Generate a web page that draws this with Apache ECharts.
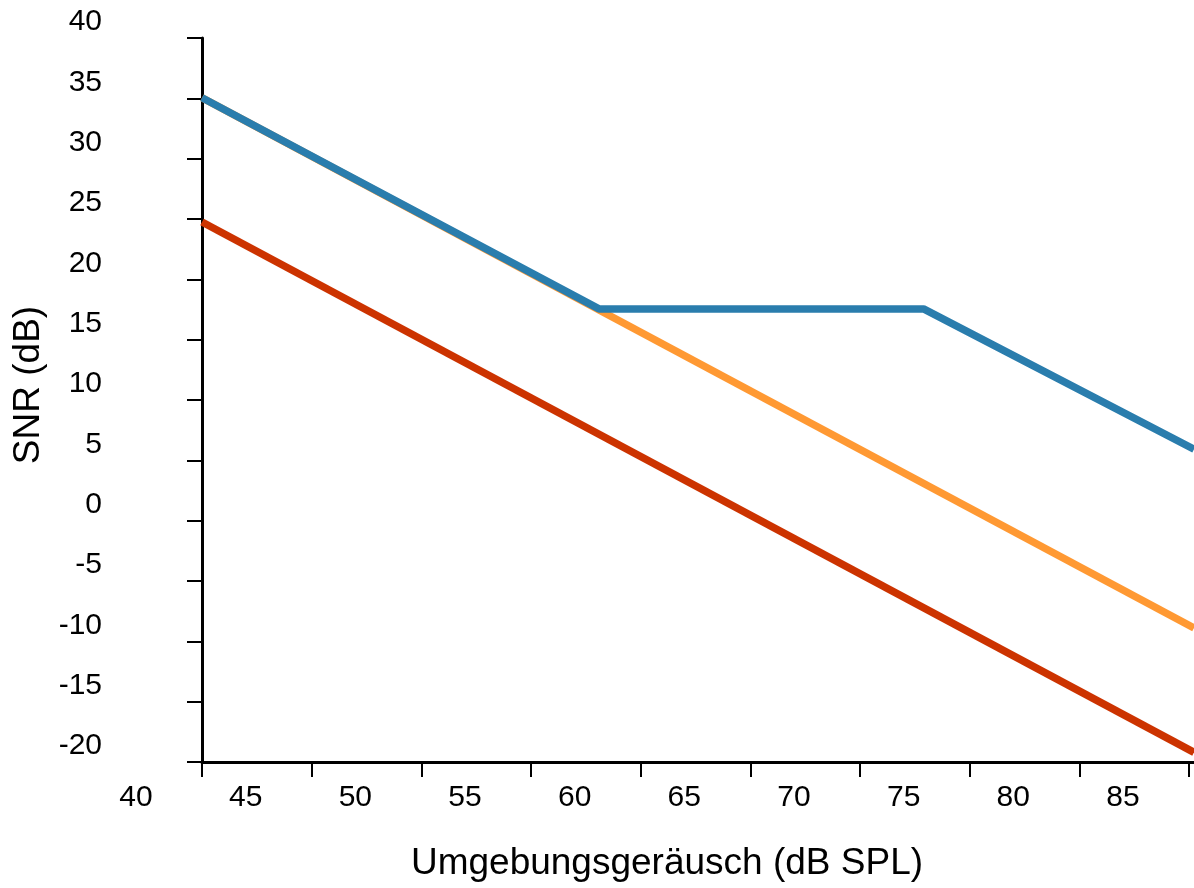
<!DOCTYPE html>
<html>
<head>
<meta charset="utf-8">
<script src="https://cdn.jsdelivr.net/npm/echarts@6/dist/echarts.min.js"></script>
<style>
html,body{margin:0;padding:0;background:#fff;}
#chart{width:1194px;height:888px;}
</style>
</head>
<body>
<div id="chart"></div>
<script>
// Data (x: ambient noise dB SPL, y: SNR dB)
const xTickValues = [40, 45, 50, 55, 60, 65, 70, 75, 80, 85];
const blueData = [[40, 35.05], [58.1, 17.55], [72.9, 17.55], [85.23, 5.92]];
const orangeData = [[40, 35.05], [85.23, -8.9]];
const redData = [[40, 24.75], [85.23, -19.2]];
const xName = 'Umgebungsgeräusch (dB SPL)';
const yName = 'SNR (dB)';

const FONT = 'Liberation Sans, Arial, Helvetica, sans-serif';
const chart = echarts.init(document.getElementById('chart'), null, {renderer: 'canvas'});
chart.setOption({
  animation: false,
  backgroundColor: '#ffffff',
  grid: {left: 202, right: 0, top: 38, bottom: 126, containLabel: false},
  xAxis: {
    type: 'value', min: 40, max: 85.23,
    name: xName, nameLocation: 'middle', nameGap: 83,
    nameTextStyle: {fontSize: 37, color: '#000', fontFamily: FONT, padding: [0, 62, 0, 0]},
    axisLine: {show: true, onZero: false, lineStyle: {color: '#000', width: 3}},
    axisTick: {show: true, length: 15, customValues: xTickValues, lineStyle: {color: '#000', width: 2}},
    axisLabel: {show: true, customValues: xTickValues, margin: 21, fontSize: 30, color: '#000', fontFamily: FONT, padding: [0, 132, 0, 0]},
    splitLine: {show: false}
  },
  yAxis: {
    type: 'value', min: -20, max: 40, interval: 5,
    name: yName, nameLocation: 'middle', nameGap: 147, nameRotate: 90,
    nameTextStyle: {fontSize: 37, color: '#000', fontFamily: FONT, padding: [0, 0, 0, 30]},
    axisLine: {show: true, onZero: false, lineStyle: {color: '#000', width: 3}},
    axisTick: {show: true, length: 15, lineStyle: {color: '#000', width: 2}},
    axisLabel: {
      show: true, margin: 100, color: '#000',
      formatter: function (v) { return '{t|' + v + '}'; },
      rich: {t: {fontSize: 30, fontFamily: FONT, color: '#000', padding: [0, 0, 32, 0]}}
    },
    splitLine: {show: false}
  },
  series: [
    {type: 'line', data: redData, symbol: 'none', lineStyle: {color: '#CC3300', width: 7.5}, z: 2},
    {type: 'line', data: orangeData, symbol: 'none', lineStyle: {color: '#FF9933', width: 7.5}, z: 3},
    {type: 'line', data: blueData, symbol: 'none', lineStyle: {color: '#2A7DAD', width: 7.5}, z: 4}
  ]
});
</script>
</body>
</html>
